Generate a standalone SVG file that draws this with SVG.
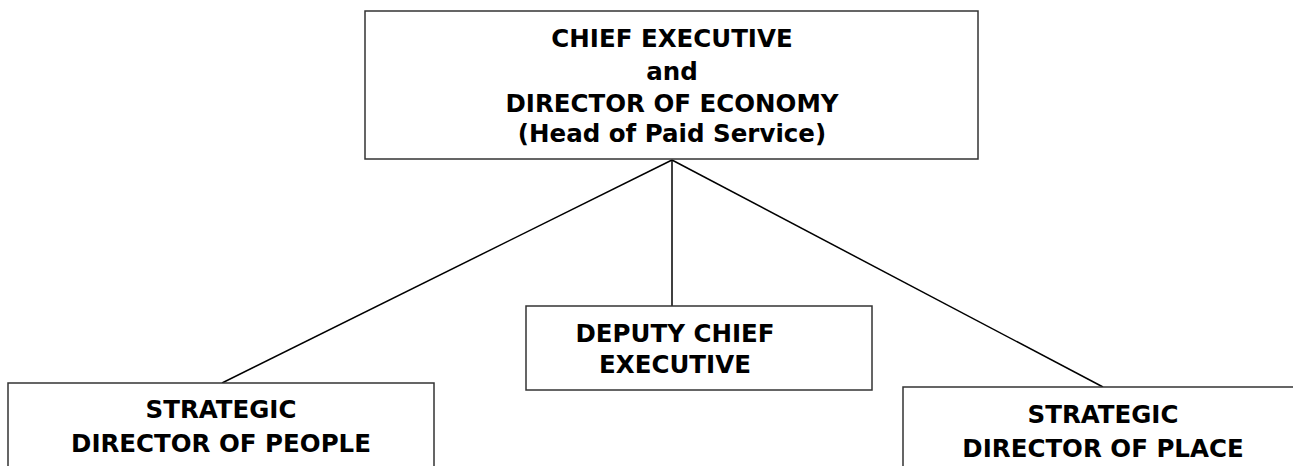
<svg xmlns="http://www.w3.org/2000/svg" width="1293" height="466" viewBox="0 0 1293 466">
<style>
.box{fill:#fff;stroke:#333;stroke-width:1.5}
.t{font-family:"DejaVu Sans",Verdana,sans-serif;font-weight:bold;font-size:24.5px;fill:#000;text-anchor:middle}
.c{stroke:#000;stroke-width:1.5;fill:none}
</style>
<rect width="1293" height="466" fill="#fff"/>
<g id="connectors">
<line class="c" x1="672" y1="160" x2="222" y2="383"/>
<line class="c" x1="672" y1="160" x2="672" y2="306"/>
<line class="c" x1="672" y1="160" x2="1103" y2="387"/>
</g>
<g id="chief">
<rect class="box" x="365" y="11" width="613" height="148"/>
<text class="t" x="672" y="47">CHIEF EXECUTIVE</text>
<text class="t" x="672" y="80">and</text>
<text class="t" x="672" y="112">DIRECTOR OF ECONOMY</text>
<text class="t" x="672" y="142">(Head of Paid Service)</text>
</g>
<g id="deputy">
<rect class="box" x="526" y="306" width="346" height="84"/>
<text class="t" x="675" y="342">DEPUTY CHIEF</text>
<text class="t" x="675" y="373">EXECUTIVE</text>
</g>
<g id="people">
<rect class="box" x="8" y="383" width="426" height="100"/>
<text class="t" x="221" y="418">STRATEGIC</text>
<text class="t" x="221" y="452">DIRECTOR OF PEOPLE</text>
</g>
<g id="place">
<rect class="box" x="903" y="387" width="400" height="100"/>
<text class="t" x="1103" y="423">STRATEGIC</text>
<text class="t" x="1103" y="457">DIRECTOR OF PLACE</text>
</g>
</svg>
